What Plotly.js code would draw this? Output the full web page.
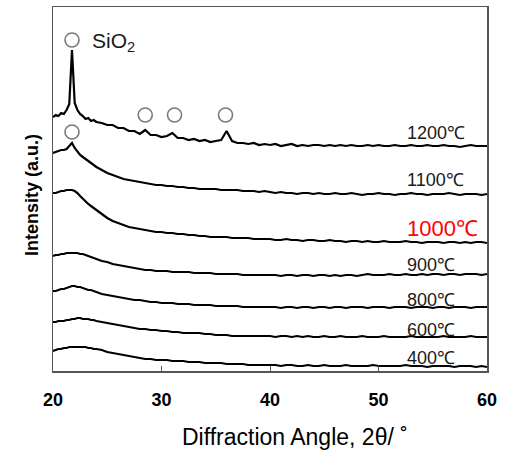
<!DOCTYPE html>
<html>
<head>
<meta charset="utf-8">
<script src="https://cdn.plot.ly/plotly-3.0.1.min.js"></script>
<style>html,body{margin:0;padding:0;background:#fff;}#chart{width:506px;height:451px;}</style>
</head>
<body>
<div id="chart"></div>
<script>
// Diffraction angle 2θ (degrees)
const angle = [20,20.25,20.5,20.75,21,21.25,21.5,21.75,22,22.25,22.5,22.75,23,23.25,23.5,23.75,24,
24.5,25,25.5,26,26.5,27,27.5,28,28.5,29,29.5,30,30.5,31,31.5,32,32.5,33,33.5,34,34.5,35,35.5,36,36.5,37,37.5,38,38.5,39,39.5,40,
40.5,41,41.5,42,42.5,43,43.5,44,44.5,45,45.5,46,46.5,47,47.5,48,48.5,49,49.5,50,50.5,51,51.5,52,52.5,53,53.5,54,54.5,55,55.5,56,56.5,57,57.5,58,58.5,59,59.5,60];

// Intensities (a.u., stacked as drawn)
const s1200 = [254,256,255,258,257,261,267,321,268,261,257,255,252,253,250,251,249,
248,246,246,243,243,240,240,237,241,236,236,234,235,238,233,233,231,232,230,231,229,230,231,240,230,228,228,227,228,226,227,226,
227,225,226,227,225,226,225,226,226,225,226,225,226,225,226,225,225,226,225,226,225,225,226,225,225,226,225,225,226,225,225,226,225,225,224,225,226,225,225,225];
const s1100 = [218,219,220,221,221,222,225,228,223,219,216,214,212,210,208,206,204,
201,198,196,194,192,191,190,189,188,187,186,186,185,185,184,184,183,183,182,182,182,182,181,181,181,181,180,180,180,179,180,179,
178,179,178,178,177,178,178,177,178,177,177,178,177,177,178,177,176,177,177,178,177,177,176,177,177,178,177,177,176,177,177,177,178,177,176,177,177,177,176,177];
const s1000 = [178,178,179,180,180,181,181,181,180,178,175,172,169,167,165,163,161,
157,153,150,148,146,144,143,142,141,140,139,139,138,138,137,137,136,136,135,135,134,134,134,134,133,133,133,133,132,132,132,132,
131,131,132,131,131,130,131,131,130,130,131,130,130,129,130,130,129,130,129,129,130,129,129,129,130,129,129,128,129,129,129,128,129,129,128,129,128,129,129,128];
const s900 = [115,116,116,117,117,118,118,118,118,118,117,117,116,115,114,113,112,
110,109,107,106,105,104,103,102,101,101,100,100,100,99,99,99,99,98,98,98,98,97,97,97,97,97,96,96,96,96,96,96,
96,95,96,96,95,96,96,95,96,96,95,96,95,96,96,95,96,97,96,96,96,97,96,96,97,96,96,97,96,97,97,96,97,97,96,97,97,97,96,97];
const s800 = [80,80,81,82,82,83,84,85,85,84,84,83,82,81,81,80,79,
77,76,75,74,73,72,71,71,70,69,69,68,68,68,67,67,67,66,66,66,66,65,65,65,65,65,64,64,64,64,64,64,
64,63,64,64,63,64,64,63,64,64,63,64,64,63,64,64,64,63,64,64,64,63,64,64,64,63,64,64,64,63,64,64,63,64,64,64,63,64,64,64];
const s600 = [49,49,50,50,50,51,51,52,52,53,53,52,52,52,51,51,50,
49,48,47,46,45,44,43,42,42,41,41,40,40,39,39,38,38,38,38,37,37,36,36,36,35,35,35,35,35,35,35,35,
34,35,35,34,35,34,35,34,34,35,34,34,35,34,34,34,35,34,34,34,35,34,34,34,34,35,34,34,34,34,34,35,34,34,34,34,35,34,34,34];
const s400 = [20,21,22,22,23,23,24,24,24,24,24,24,24,23,23,22,22,
21,19,18,17,16,15,14,13,12,12,11,11,11,10,10,10,9,9,9,8,8,8,8,7,7,7,7,6,6,6,6,6,
6,5,6,6,5,5,6,5,5,6,5,5,5,6,5,5,5,5,6,5,5,5,5,5,6,5,5,5,4,5,5,5,5,4,5,5,5,4,5,4];

const seriesList = [s1200, s1100, s1000, s900, s800, s600, s400];
const seriesLabels = ['1200℃','1100℃','1000℃','900℃','800℃','600℃','400℃'];
const labelY = [238, 191, 143, 106, 71, 41, 13];
const labelX = 52.4;

// SiO2 peak markers
const peakX = [21.75, 21.75, 28.5, 31.2, 35.9];
const peakY = [331, 239, 256, 256, 256];

const FONT = 'Liberation Sans, Arial, Helvetica, sans-serif';

const traces = seriesList.map((s, i) => ({
  x: angle, y: s, type: 'scatter', mode: 'lines',
  line: {color: '#000', width: 2.2, shape: 'linear'},
  hoverinfo: 'skip', showlegend: false, name: seriesLabels[i]
}));
traces.push({
  x: peakX, y: peakY, type: 'scatter', mode: 'markers',
  marker: {symbol: 'circle', size: 14, color: '#fff', line: {color: '#7a7a7a', width: 1.6}},
  hoverinfo: 'skip', showlegend: false
});

const annotations = seriesLabels.map((t, i) => ({
  x: labelX, y: labelY[i], xref: 'x', yref: 'y', xanchor: 'left', yanchor: 'middle',
  text: t, showarrow: false,
  font: t === '1000℃' ? {family: FONT, size: 22, color: '#ff0000'} : {family: FONT, size: 18, color: '#1a1a1a'}
}));
annotations.push({
  x: 23.4, y: 329, xref: 'x', yref: 'y', xanchor: 'left', yanchor: 'middle',
  text: 'SiO<sub>2</sub>', showarrow: false, font: {family: FONT, size: 21, color: '#1a1a1a'}
});
// axis titles
annotations.push({
  x: 0.5, y: 0, xref: 'paper', yref: 'paper', xanchor: 'center', yanchor: 'middle',
  xshift: 25, yshift: -66,
  text: 'Diffraction Angle, 2θ/ ˚', showarrow: false, font: {family: FONT, size: 23, color: '#000'}
});
annotations.push({
  x: 0, y: 0.5, xref: 'paper', yref: 'paper', xanchor: 'center', yanchor: 'middle',
  xshift: -21, yshift: -6, textangle: -90,
  text: '<b>Intensity (a.u.)</b>', showarrow: false, font: {family: FONT, size: 18, color: '#000'}
});

const layout = {
  width: 506, height: 451,
  margin: {l: 53, r: 19, t: 7, b: 80},
  paper_bgcolor: '#fff', plot_bgcolor: '#fff',
  showlegend: false,
  xaxis: {
    range: [20, 60], tickvals: [20, 30, 40, 50, 60],
    ticks: 'inside', ticklen: 5, tickcolor: '#555', tickwidth: 1,
    showline: true, mirror: true, linecolor: '#555', linewidth: 1.5,
    showgrid: false, zeroline: false,
    tickfont: {family: FONT, size: 18, weight: 'bold', color: '#000'},
    ticklabelstandoff: 12
  },
  yaxis: {
    range: [0, 364], showticklabels: false, ticks: '',
    showline: true, mirror: true, linecolor: '#555', linewidth: 1.5,
    showgrid: false, zeroline: false
  },
  annotations: annotations
};

Plotly.newPlot('chart', traces, layout, {displayModeBar: false, staticPlot: true});
</script>
</body>
</html>
